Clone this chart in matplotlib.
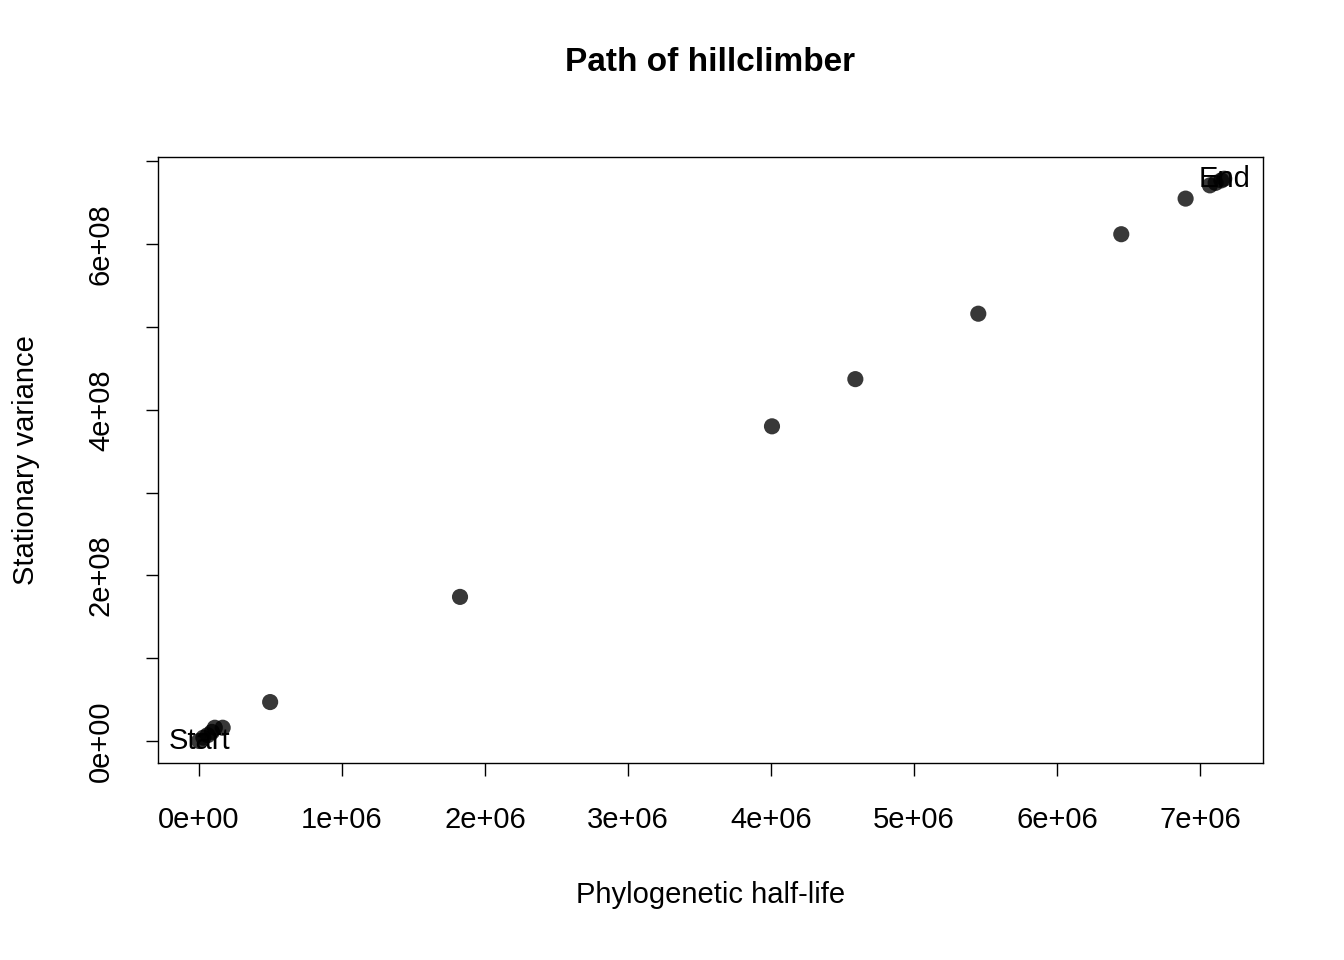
import numpy as np
import matplotlib.pyplot as plt

plt.rcParams['font.family'] = ['Liberation Sans', 'DejaVu Sans']

# path of the hillclimber (half-life, stationary variance)
half_life = [0.0, 0.03e6, 0.06e6, 0.09e6, 0.11e6, 0.165e6, 0.497e6, 1.825e6,
             4.007e6, 4.59e6, 5.45e6, 6.45e6, 6.90e6, 7.07e6, 7.11e6, 7.15e6, 7.17e6]
stat_var = [0.0, 0.04e8, 0.07e8, 0.11e8, 0.16e8, 0.16e8, 0.47e8, 1.74e8,
            3.80e8, 4.37e8, 5.16e8, 6.12e8, 6.55e8, 6.71e8, 6.74e8, 6.77e8, 6.79e8]
x_ticks = np.arange(0, 8e6, 1e6)
x_labels = ['%de+06' % i if i else '0e+00' for i in range(8)]
y_ticks = np.arange(0, 8e8, 1e8)
y_labels = ['0e+00', '', '2e+08', '', '4e+08', '', '6e+08', '']

fig = plt.figure(figsize=(13.44, 9.6), dpi=100)
ax = fig.add_axes([0.1176, 0.2052, 0.8221, 0.6313])
ax.scatter(half_life, stat_var, s=135, color='black', alpha=0.78, edgecolors='none', zorder=3)
ax.text(half_life[0], stat_var[0], 'Start', ha='center', va='center', fontsize=21, zorder=4)
ax.text(half_life[-1], stat_var[-1], 'End', ha='center', va='center', fontsize=21, zorder=4)

ax.set_xlim(-0.287e6, 7.441e6)
ax.set_ylim(-0.266e8, 7.053e8)
ax.set_xticks(x_ticks)
ax.set_xticklabels(x_labels)
ax.set_yticks(y_ticks)
ax.set_yticklabels(y_labels, rotation=90, va='center')
ax.tick_params(direction='out', length=9, width=1, labelsize=21, pad=22)
for s in ax.spines.values():
    s.set_linewidth(1)
ax.set_xlabel('Phylogenetic half-life', fontsize=21, labelpad=34)
ax.set_ylabel('Stationary variance', fontsize=21, labelpad=34)
ax.set_title('Path of hillclimber', fontsize=24, fontweight='bold', pad=62)

fig.savefig('out.png', dpi=100)
